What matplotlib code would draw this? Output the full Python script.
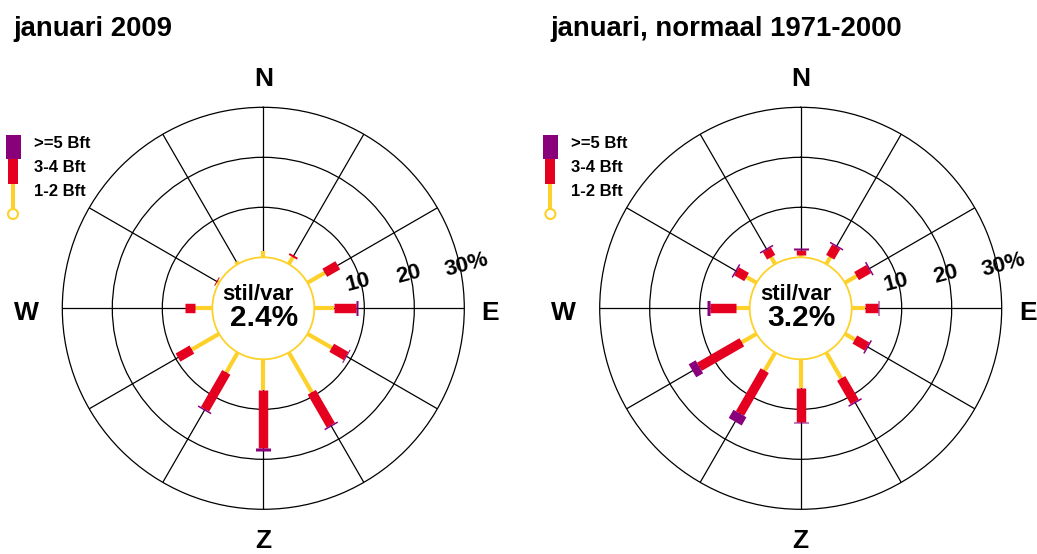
import numpy as np
import matplotlib
matplotlib.use('Agg')
import matplotlib.pyplot as plt
from matplotlib.patches import Rectangle, Circle

plt.rcParams['font.family'] = ['Liberation Sans', 'DejaVu Sans']
plt.rcParams['font.weight'] = 'bold'

# windrichtingen in graden (N = 0, met de klok mee)
richtingen = [0, 30, 60, 90, 120, 150, 180, 210, 240, 270, 300, 330]

# januari 2009, percentage per richting en windkracht
jan2009_12bft = [1.2, 1.6, 4.0, 4.0, 5.6, 9.2, 6.1, 4.6, 6.3, 3.5, 0.4, 0.6]
jan2009_34bft = [0.0, 0.4, 3.0, 4.3, 3.3, 7.6, 11.7, 8.5, 3.2, 2.0, 0.2, 0.0]
jan2009_5bft = [0.0, 0.0, 0.0, 0.5, 0.2, 0.3, 0.6, 0.3, 0.0, 0.0, 0.0, 0.0]
jan2009_stil = 2.4

# januari, normaal 1971-2000
normaal_12bft = [0.5, 1.6, 2.7, 2.7, 2.3, 6.0, 5.8, 4.2, 3.4, 2.7, 2.3, 1.6]
normaal_34bft = [1.0, 2.4, 2.8, 2.5, 2.8, 5.4, 6.7, 9.9, 9.8, 5.2, 2.3, 1.7]
normaal_5bft = [0.3, 0.3, 0.3, 0.3, 0.3, 0.3, 0.3, 1.9, 1.6, 0.6, 0.3, 0.3]
normaal_stil = 3.2

titels = ['januari 2009', 'januari, normaal 1971-2000']
legenda_labels = ['>=5 Bft', '3-4 Bft', '1-2 Bft']
ring_waarden = [10, 20, 30]
ring_labels = ['10', '20', '30%']

geel = '#fdd12a'
rood = '#e4001e'
paars = '#88007a'

W, H = 1037, 554
fig = plt.figure(figsize=(W / 100, H / 100), dpi=100)

R_PX = 201          # straal buitenste ring in pixels
R0 = 10.2           # gat in het midden (in % eenheden)
centra = [(263.3, 308.3), (800.7, 308.3)]
data = [
    (jan2009_12bft, jan2009_34bft, jan2009_5bft, jan2009_stil),
    (normaal_12bft, normaal_34bft, normaal_5bft, normaal_stil),
]

# overlay-as in pixelcoordinaten voor titels en legenda
overlay = fig.add_axes([0, 0, 1, 1])
overlay.set_xlim(0, W)
overlay.set_ylim(H, 0)
overlay.axis('off')

for i, ((cx, cy), (k12, k34, k5, stil)) in enumerate(zip(centra, data)):
    ax = fig.add_axes([(cx - R_PX) / W, (H - cy - R_PX) / H,
                       2 * R_PX / W, 2 * R_PX / H], projection='polar')
    ax.set_theta_zero_location('N')
    ax.set_theta_direction(-1)
    ax.set_rlim(0, 30)
    ax.set_rorigin(-R0)
    ax.set_axisbelow(True)
    ax.set_thetagrids(richtingen, labels=[''] * len(richtingen))
    ax.set_rgrids([10, 20], labels=['', ''])
    ax.grid(True, color='black', linewidth=0.9, linestyle='-')
    ax.spines['polar'].set_color('black')
    ax.spines['polar'].set_linewidth(0.9)
    ax.spines['inner'].set_color(geel)
    ax.spines['inner'].set_linewidth(1.3)
    ax.tick_params(pad=0)

    # gestapelde staven per richting
    for r, a, b, c in zip(richtingen, k12, k34, k5):
        th = np.deg2rad(r)
        ax.plot([th, th], [0, a], color=geel, lw=3.0, solid_capstyle='butt', zorder=3)
        if b > 0:
            ax.plot([th, th], [a, a + b], color=rood, lw=6.8, solid_capstyle='butt', zorder=4)
        if c > 0:
            ax.plot([th, th], [a + b, a + b + c], color=paars, lw=10.8, solid_capstyle='butt', zorder=5)

    # ringlabels langs de straal
    for w, lab, hoek, rr in zip(ring_waarden, ring_labels, [75, 77, 78], [9.5, 19.6, 31.3]):
        ax.text(np.deg2rad(hoek), rr, lab, rotation=15, ha='center', va='center',
                fontsize=16, fontweight='bold', clip_on=False)

    # windrichtingen
    d = 1 / (2 * R_PX)
    for lab, (ox, oy) in zip(['N', 'E', 'Z', 'W'],
                             [(0, 229), (227, -5), (0, -233), (-237, -5)]):
        ax.text(0.5 + ox * d, 0.5 + oy * d, lab, transform=ax.transAxes,
                ha='center', va='center', fontsize=19, fontweight='bold')

    ax.text(0.5 - 5 * d, 0.5 + 14 * d, 'stil/var', transform=ax.transAxes,
            ha='center', va='center', fontsize=16, fontweight='bold')
    ax.text(0.5 + 1 * d, 0.5 - 10 * d, f'{stil}%', transform=ax.transAxes,
            ha='center', va='center', fontsize=21.5, fontweight='bold')

    # titel
    dx = cx - centra[0][0]
    overlay.text(13 + dx, 36, titels[i], ha='left', va='baseline',
                 fontsize=19.8, fontweight='bold')

    # legenda
    lx = 13 + dx
    overlay.add_patch(Rectangle((lx - 7.5, 134.5), 15, 24.5, color=paars, lw=0))
    overlay.add_patch(Rectangle((lx - 5, 159), 10, 24.5, color=rood, lw=0))
    overlay.plot([lx, lx], [183.5, 209], color=geel, lw=2.9, solid_capstyle='butt')
    overlay.add_patch(Circle((lx, 214), 5, facecolor='white', edgecolor=geel, lw=1.5))
    for lab, y in zip(legenda_labels, [144, 168, 192]):
        overlay.text(lx + 20.5, y, lab, ha='left', va='center', fontsize=12,
                     fontweight='bold')

fig.savefig('out.png', dpi=100)
